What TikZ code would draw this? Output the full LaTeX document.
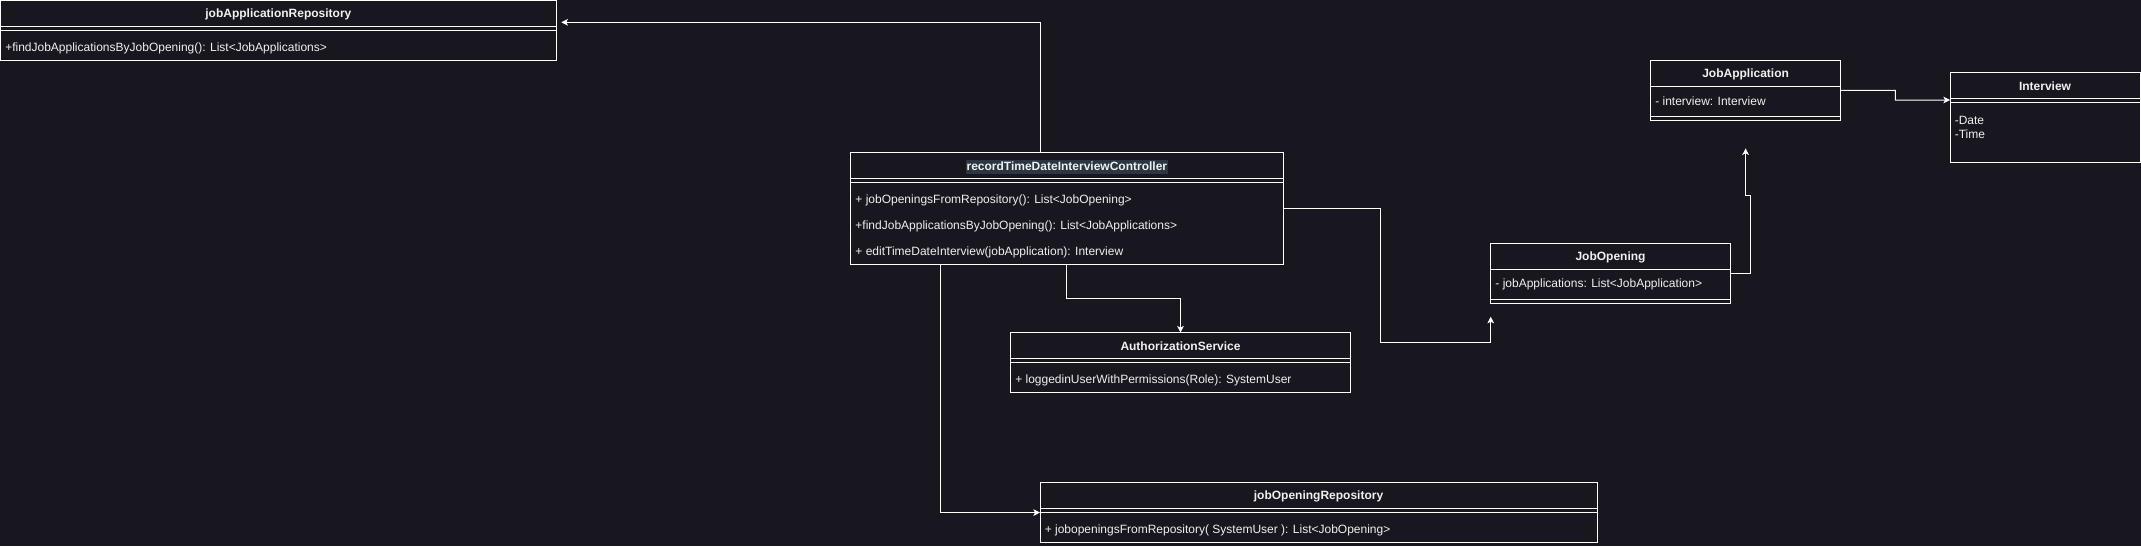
\documentclass[tikz,border=0pt]{standalone}
\usepackage{fontspec}
\setmainfont{Liberation Sans}
\usetikzlibrary{arrows.meta,calc}
\definecolor{bg}{HTML}{18171F}
\definecolor{fg}{HTML}{F0F0F0}
\definecolor{hl}{HTML}{2B3640}
\newcommand\clssep[2]{\draw[clsline] ([yshift=-#2*0.75pt]#1.north west) -- ([yshift=-#2*0.75pt]#1.north east);}
\begin{document}
\begin{tikzpicture}[x=0.75pt,y=-0.75pt,
  classbox/.style={draw=white, line width=0.75pt, fill=bg, inner sep=0pt, outer sep=0pt, anchor=north west, rectangle},
  clsline/.style={draw=white, line width=0.75pt},
  ttltext/.style={font=\bfseries\fontsize{9}{10.5}\selectfont, text=fg, inner sep=0pt},
  rowtext/.style={font=\fontsize{9}{10.5}\selectfont, text=fg, inner sep=0pt, anchor=west},
  conn/.style={draw=white, line width=0.75pt, -{Stealth[length=5pt,width=5pt,inset=1.3pt]}}]
\fill[bg] (0,0) rectangle (2141,546);
\useasboundingbox (0,0) rectangle (2141,546);

% jobApplicationRepository
\node[classbox, minimum width=555.8*0.75pt, minimum height=59.8*0.75pt] (jar) at (0.5,0.5) {};
\node[ttltext] (jar-t) at ([yshift=-14*0.75pt]jar.north) {jobApplicationRepository};
\clssep{jar}{26}\clssep{jar}{30}
\node[rowtext] (jar-r1) at ([xshift=4.5*0.75pt,yshift=-48*0.75pt]jar.north west) {+findJobApplicationsByJobOpening(): List<JobApplications>};

% recordTimeDateInterviewController
\node[classbox, minimum width=432.3*0.75pt, minimum height=111.6*0.75pt] (ctrl) at (850.7,152.7) {};
\node[ttltext, fill=hl, inner xsep=0.75pt, minimum height=10.7pt] (ctrl-t) at ([yshift=-14*0.75pt]ctrl.north) {recordTimeDateInterviewController};
\clssep{ctrl}{26}\clssep{ctrl}{30}
\node[rowtext] (ctrl-r1) at ([xshift=4.5*0.75pt,yshift=-48*0.75pt]ctrl.north west) {+ jobOpeningsFromRepository(): List<JobOpening>};
\node[rowtext] (ctrl-r2) at ([xshift=4.5*0.75pt,yshift=-74*0.75pt]ctrl.north west) {+findJobApplicationsByJobOpening(): List<JobApplications>};
\node[rowtext] (ctrl-r3) at ([xshift=4.5*0.75pt,yshift=-99.5*0.75pt]ctrl.north west) {+ editTimeDateInterview(jobApplication): Interview};

% AuthorizationService
\node[classbox, minimum width=340*0.75pt, minimum height=59.6*0.75pt] (auth) at (1010.5,332.6) {};
\node[ttltext] (auth-t) at ([yshift=-14*0.75pt]auth.north) {AuthorizationService};
\clssep{auth}{26}\clssep{auth}{30}
\node[rowtext] (auth-r1) at ([xshift=4.5*0.75pt,yshift=-48*0.75pt]auth.north west) {+ loggedinUserWithPermissions(Role): SystemUser};

% jobOpeningRepository
\node[classbox, minimum width=557*0.75pt, minimum height=59.6*0.75pt] (jor) at (1040,482.6) {};
\node[ttltext] (jor-t) at ([yshift=-14*0.75pt]jor.north) {jobOpeningRepository};
\clssep{jor}{26}\clssep{jor}{30}
\node[rowtext] (jor-r1) at ([xshift=4.5*0.75pt,yshift=-48*0.75pt]jor.north west) {+ jobopeningsFromRepository( SystemUser ): List<JobOpening>};

% JobApplication
\node[classbox, minimum width=190.2*0.75pt, minimum height=60*0.75pt] (ja) at (1650.5,60.3) {};
\node[ttltext] (ja-t) at ([yshift=-14*0.75pt]ja.north) {JobApplication};
\clssep{ja}{26}\clssep{ja}{56}
\node[rowtext] (ja-r1) at ([xshift=4.5*0.75pt,yshift=-40.5*0.75pt]ja.north west) {- interview: Interview};

% JobOpening
\node[classbox, minimum width=239.6*0.75pt, minimum height=59.6*0.75pt] (jo) at (1490.7,243.7) {};
\node[ttltext] (jo-t) at ([yshift=-14*0.75pt]jo.north) {JobOpening};
\clssep{jo}{26}\clssep{jo}{56}
\node[rowtext] (jo-r1) at ([xshift=4.5*0.75pt,yshift=-40.5*0.75pt]jo.north west) {- jobApplications: List<JobApplication>};

% Interview
\node[classbox, minimum width=190*0.75pt, minimum height=89.8*0.75pt] (iv) at (1950,72.3) {};
\node[ttltext] (iv-t) at ([yshift=-14*0.75pt]iv.north) {Interview};
\clssep{iv}{26.4}\clssep{iv}{30.4}
\node[rowtext] (iv-r1) at ([xshift=4.5*0.75pt,yshift=-47.7*0.75pt]iv.north west) {-Date};
\node[rowtext] (iv-r2) at ([xshift=4.5*0.75pt,yshift=-61.5*0.75pt]iv.north west) {-Time};

% free ends
\coordinate (c2end) at ([yshift=-13.4*0.75pt]jo.south west);
\coordinate (c5end) at ([yshift=-28*0.75pt]ja.south);

% connectors
\draw[conn, shorten >=3.75pt] ([xshift=190*0.75pt]ctrl.north west) |- ([yshift=-21.8*0.75pt]jar.north east);
\draw[conn] ([yshift=-55.3*0.75pt]ctrl.north east) -| (1380.3,342.3) -| (c2end);
\draw[conn] ([xshift=215.6*0.75pt]ctrl.south west) -- ++(0,34) -| (auth.north);
\draw[conn] ([xshift=90*0.75pt]ctrl.south west) |- ([yshift=-30*0.75pt]jor.north west);
\draw[conn] ([yshift=-29.6*0.75pt]jo.north east) -| (1750.3,195.7) -| (c5end);
\draw[conn] ([yshift=-30*0.75pt]ja.north east) -| (1895.4,100) -- ([yshift=-27.7*0.75pt]iv.north west);
\end{tikzpicture}
\end{document}
